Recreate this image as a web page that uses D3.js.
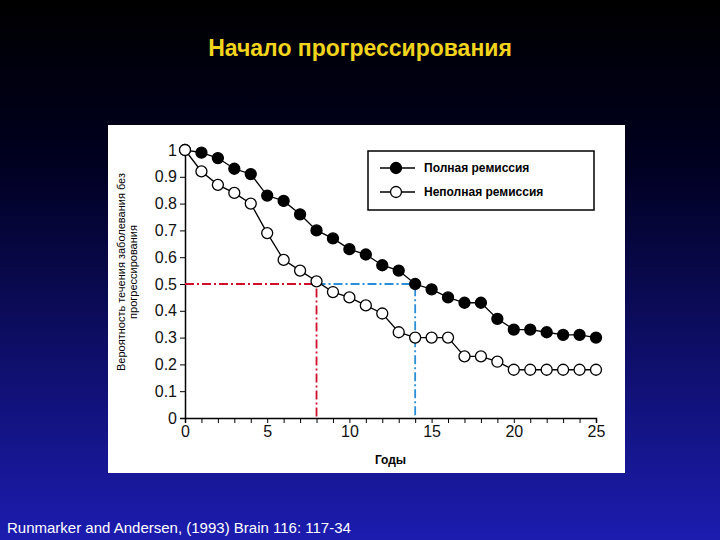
<!DOCTYPE html>
<html><head><meta charset="utf-8">
<script src="https://cdn.jsdelivr.net/npm/d3@7"></script>
<style>body{margin:0}svg{display:block}</style>
</head><body>
<svg id="c" width="720" height="540"></svg>
<script>
const years = d3.range(0, 26);
const complete = [1, .99, .97, .93, .91, .83, .81, .76, .70, .67, .63, .61, .57, .55, .50, .48, .45, .43, .43, .37, .33, .33, .32, .31, .31, .30];
const partial = [1, .92, .87, .84, .80, .69, .59, .55, .51, .47, .45, .42, .39, .32, .30, .30, .30, .23, .23, .21, .18, .18, .18, .18, .18, .18];
const yTicks = [0, .1, .2, .3, .4, .5, .6, .7, .8, .9, 1];
const xTicks = [0, 5, 10, 15, 20, 25];

const svg = d3.select("#c");
const defs = svg.append("defs");
const g = defs.append("linearGradient").attr("id", "bg").attr("x1", 0).attr("y1", 0).attr("x2", 0).attr("y2", 1);
g.append("stop").attr("offset", "0").attr("stop-color", "#000000");
g.append("stop").attr("offset", "0.3").attr("stop-color", "#000020");
g.append("stop").attr("offset", "1").attr("stop-color", "#1c1cb0");
svg.append("rect").attr("width", 720).attr("height", 540).attr("fill", "url(#bg)");

svg.append("text").attr("x", 360).attr("y", 56).attr("text-anchor", "middle")
  .attr("fill", "#f2d41c").attr("font-family", "Liberation Sans, Arial").attr("font-weight", "bold")
  .attr("font-size", 23).text("Начало прогрессирования");

svg.append("rect").attr("x", 108).attr("y", 125).attr("width", 517).attr("height", 348).attr("fill", "#fff");

const x = d3.scaleLinear().domain([0, 25]).range([185, 596]);
const y = d3.scaleLinear().domain([0, 1]).range([418, 150]);
const font = "Liberation Sans, Arial";

const ya = svg.append("g").attr("transform", "translate(185,0)")
  .call(d3.axisLeft(y).tickValues(yTicks).tickSize(5).tickFormat(d3.format("")));
ya.select(".domain").attr("stroke-width", 1.5);
ya.selectAll("text").attr("font-family", font).attr("font-size", 16).attr("fill", "#111");

const xa = svg.append("g").attr("transform", "translate(0,418)")
  .call(d3.axisBottom(x).tickValues(years).tickSize(5).tickFormat(d => xTicks.includes(d) ? d : ""));
xa.select(".domain").attr("stroke-width", 1.5);
xa.selectAll("text").attr("font-family", font).attr("font-size", 16).attr("fill", "#111");

svg.append("text").attr("x", x(12.5)).attr("y", 464).attr("text-anchor", "middle")
  .attr("font-family", font).attr("font-weight", "bold").attr("font-size", 12).text("Годы");
const yl = svg.append("text").attr("transform", "translate(125,272) rotate(-90)")
  .attr("text-anchor", "middle").attr("font-family", font).attr("font-size", 11);
yl.append("tspan").attr("x", 0).attr("dy", 0).text("Вероятность течения заболевания без");
yl.append("tspan").attr("x", 0).attr("dy", 12).text("прогрессирования");

// reference lines
const refs = [[8, "#d0102a"], [14, "#2a8fd8"]];
refs.forEach(([yr, col]) => {
  svg.append("path").attr("d", `M${yr === 8 ? x(0) : x(8)},${y(.5)}H${x(yr)}V${y(0)}`)
    .attr("fill", "none").attr("stroke", col).attr("stroke-width", 1.8).attr("stroke-dasharray", "9,3,2,3");
});

const line = d3.line().x((d, i) => x(years[i])).y(d => y(d));
[[complete, "#000"], [partial, "#fff"]].forEach(([vals, fill]) => {
  svg.append("path").attr("d", line(vals)).attr("fill", "none").attr("stroke", "#000").attr("stroke-width", 1.3);
  svg.selectAll(null).data(vals).join("circle")
    .attr("cx", (d, i) => x(years[i])).attr("cy", d => y(d)).attr("r", 5.5)
    .attr("fill", fill).attr("stroke", "#000").attr("stroke-width", 1.3);
});

// legend
const lg = svg.append("g");
lg.append("rect").attr("x", 368).attr("y", 151).attr("width", 226).attr("height", 59)
  .attr("fill", "#fff").attr("stroke", "#000").attr("stroke-width", 1.5);
[["Полная ремиссия", "#000", 168], ["Неполная ремиссия", "#fff", 192]].forEach(([t, f, yy]) => {
  lg.append("line").attr("x1", 380).attr("x2", 415).attr("y1", yy).attr("y2", yy).attr("stroke", "#000").attr("stroke-width", 1.3);
  lg.append("circle").attr("cx", 396).attr("cy", yy).attr("r", 5.5).attr("fill", f).attr("stroke", "#000").attr("stroke-width", 1.3);
  lg.append("text").attr("x", 424).attr("y", yy + 4).attr("font-family", font).attr("font-weight", "bold")
    .attr("font-size", 12).text(t);
});

svg.append("text").attr("x", 7).attr("y", 533).attr("fill", "#fff").attr("font-family", font)
  .attr("font-size", 15).text("Runmarker and Andersen, (1993) Brain 116: 117-34");
</script>
</body></html>
